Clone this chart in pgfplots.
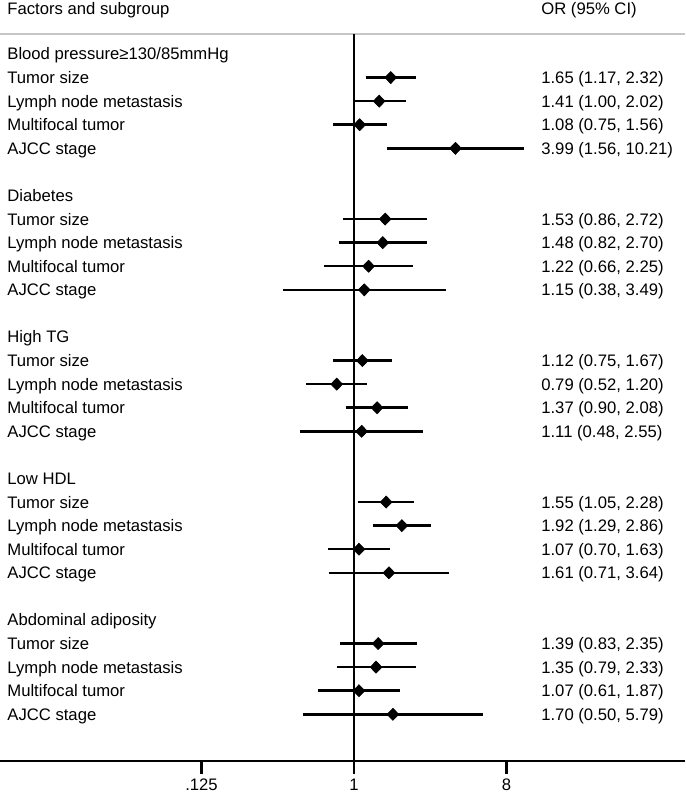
\documentclass[border=0pt]{standalone}
\usepackage{fontspec}
\setmainfont{Liberation Sans}
\usepackage{pgfplots}
\pgfplotsset{compat=1.18}
% #1 = y (minus row index), #2 = OR, #3 = lower CI, #4 = upper CI
\newcommand{\ci}[4]{%
  \addplot[black,line width=1.5pt] coordinates {(#3,#1) (#4,#1)};
  \addplot[black,only marks,mark=diamond*,mark size=3.6pt,mark options={xscale=1.3}] coordinates {(#2,#1)};
}
\newcommand{\lt}[2]{\node[anchor=base west,inner sep=0pt,yshift=-3.6pt] at (axis cs:0.00881,#1) {#2};}
\newcommand{\rt}[2]{\node[anchor=base west,inner sep=0pt,yshift=-3.6pt] at (axis cs:12.81,#1) {#2};}
\begin{document}
\begin{tikzpicture}
\begin{axis}[
  name=ax,
  scale only axis,
  width=411pt, height=456.6pt,
  xmode=log, log basis x=2,
  xmin=0.008, xmax=91.3,
  ymin=-29.98, ymax=2.29,
  axis x line=bottom, axis y line=none,
  x axis line style={-, black, line width=1.3pt},
  xtick={0.125,1,8},
  xticklabels={\textrm{.125},\textrm{1},\textrm{8}},
  /pgf/number format/assume math mode=true,
  minor xtick={},
  tick align=outside,
  major tick length=7.8pt,
  x tick style={black, line width=1.3pt},
  xticklabel style={inner sep=0pt, anchor=north, yshift=-3pt},
  clip=false,
]
% header rule and reference line
\addplot[gray!45, line width=0.7pt] coordinates {(0.008,0.85) (91.3,0.85)};
\addplot[black, line width=1.3pt] coordinates {(1,0.85) (1,-29.98)};

% Blood pressure
\ci{-1}{1.65}{1.17}{2.32}
\ci{-2}{1.41}{1.00}{2.02}
\ci{-3}{1.08}{0.75}{1.56}
\ci{-4}{3.99}{1.56}{10.21}
% Diabetes
\ci{-7}{1.53}{0.86}{2.72}
\ci{-8}{1.48}{0.82}{2.70}
\ci{-9}{1.22}{0.66}{2.25}
\ci{-10}{1.15}{0.38}{3.49}
% High TG
\ci{-13}{1.12}{0.75}{1.67}
\ci{-14}{0.79}{0.52}{1.20}
\ci{-15}{1.37}{0.90}{2.08}
\ci{-16}{1.11}{0.48}{2.55}
% Low HDL
\ci{-19}{1.55}{1.05}{2.28}
\ci{-20}{1.92}{1.29}{2.86}
\ci{-21}{1.07}{0.70}{1.63}
\ci{-22}{1.61}{0.71}{3.64}
% Abdominal adiposity
\ci{-25}{1.39}{0.83}{2.35}
\ci{-26}{1.35}{0.79}{2.33}
\ci{-27}{1.07}{0.61}{1.87}
\ci{-28}{1.70}{0.50}{5.79}

\lt{1.95}{Factors and subgroup}
\rt{1.95}{OR (95\% CI)}

\lt{0}{Blood pressure≥130/85mmHg}
\lt{-1}{Tumor size}\rt{-1}{1.65 (1.17, 2.32)}
\lt{-2}{Lymph node metastasis}\rt{-2}{1.41 (1.00, 2.02)}
\lt{-3}{Multifocal tumor}\rt{-3}{1.08 (0.75, 1.56)}
\lt{-4}{AJCC stage}\rt{-4}{3.99 (1.56, 10.21)}

\lt{-6}{Diabetes}
\lt{-7}{Tumor size}\rt{-7}{1.53 (0.86, 2.72)}
\lt{-8}{Lymph node metastasis}\rt{-8}{1.48 (0.82, 2.70)}
\lt{-9}{Multifocal tumor}\rt{-9}{1.22 (0.66, 2.25)}
\lt{-10}{AJCC stage}\rt{-10}{1.15 (0.38, 3.49)}

\lt{-12}{High TG}
\lt{-13}{Tumor size}\rt{-13}{1.12 (0.75, 1.67)}
\lt{-14}{Lymph node metastasis}\rt{-14}{0.79 (0.52, 1.20)}
\lt{-15}{Multifocal tumor}\rt{-15}{1.37 (0.90, 2.08)}
\lt{-16}{AJCC stage}\rt{-16}{1.11 (0.48, 2.55)}

\lt{-18}{Low HDL}
\lt{-19}{Tumor size}\rt{-19}{1.55 (1.05, 2.28)}
\lt{-20}{Lymph node metastasis}\rt{-20}{1.92 (1.29, 2.86)}
\lt{-21}{Multifocal tumor}\rt{-21}{1.07 (0.70, 1.63)}
\lt{-22}{AJCC stage}\rt{-22}{1.61 (0.71, 3.64)}

\lt{-24}{Abdominal adiposity}
\lt{-25}{Tumor size}\rt{-25}{1.39 (0.83, 2.35)}
\lt{-26}{Lymph node metastasis}\rt{-26}{1.35 (0.79, 2.33)}
\lt{-27}{Multifocal tumor}\rt{-27}{1.07 (0.61, 1.87)}
\lt{-28}{AJCC stage}\rt{-28}{1.70 (0.50, 5.79)}
\end{axis}
\pgfresetboundingbox
\path[use as bounding box] (ax.south west) ++(0,-21.6pt) rectangle (ax.north east);
\end{tikzpicture}
\end{document}
